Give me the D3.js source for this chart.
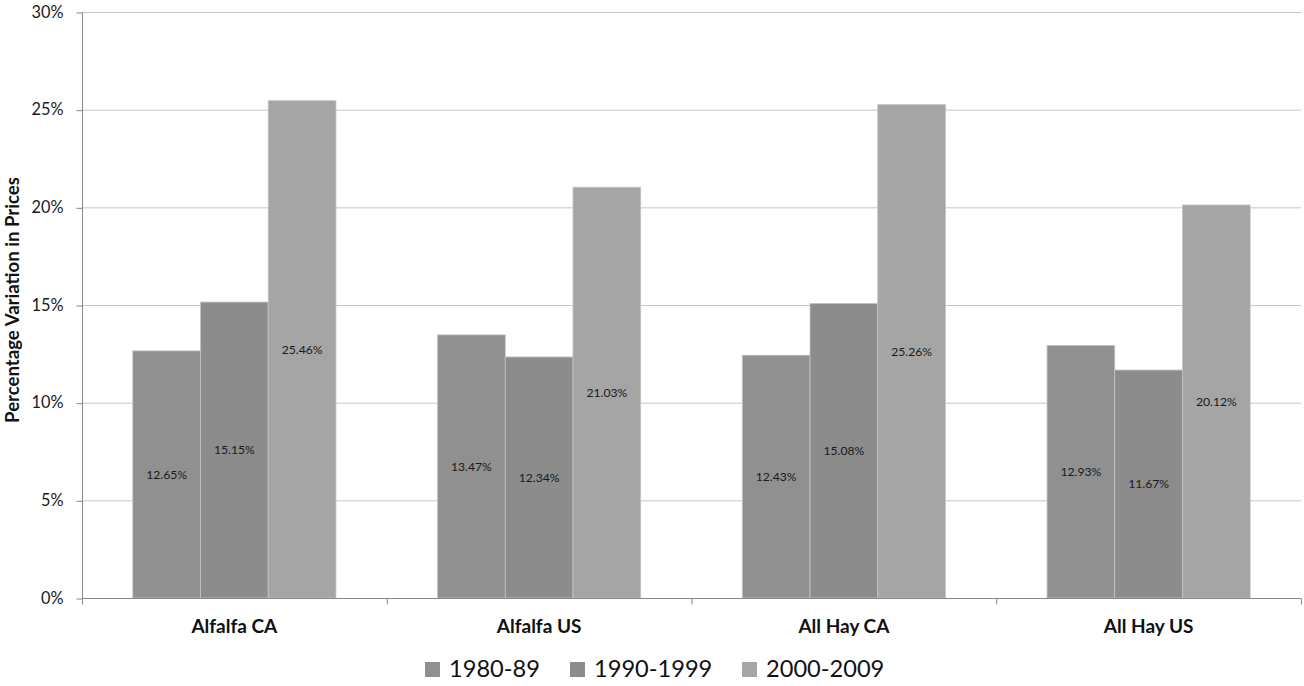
<!DOCTYPE html>
<html><head><meta charset="utf-8">
<script src="https://cdn.jsdelivr.net/npm/d3@7"></script>
<style>body{margin:0;background:#fff;} svg{font-family:Lato,"Open Sans",sans-serif;}</style>
</head><body>
<svg id="c" width="1304" height="686"></svg>
<script>
const categories = ["Alfalfa CA","Alfalfa US","All Hay CA","All Hay US"];
const seriesNames = ["1980-89","1990-1999","2000-2009"];
const s1980 = [12.65, 13.47, 12.43, 12.93];
const s1990 = [15.15, 12.34, 15.08, 11.67];
const s2000 = [25.46, 21.03, 25.26, 20.12];
const yTicks = [0,5,10,15,20,25,30];
const colors = ["#909090","#8c8c8c","#a5a5a5"];

const series = [s1980, s1990, s2000];
const svg = d3.select("#c");
const L = 82, R = 1301, T = 12, B = 598;
const x = d3.scaleBand().domain(categories).range([L,R]).paddingInner(0).paddingOuter(0);
const bw = x.bandwidth()/4.5;
const xs = d3.scaleBand().domain(seriesNames).range([0.75*bw, 3.75*bw]).padding(0);
const y = d3.scaleLinear().domain([0,30]).range([B,T]);

// scale a text selection's font-size so a sample string matches a target width
function fitSize(sample, weight, base, target){
  const t = svg.append("text").attr("font-size",base).attr("font-weight",weight).text(sample);
  const w = t.node().getComputedTextLength(); t.remove();
  return base*target/w;
}
const fsLabel = fitSize("12.65%","normal",11,41);
const fsTick = fitSize("30%","normal",15,32);
const fsCat = fitSize("Alfalfa CA","bold",16,86);
const fsTitle = fitSize("Percentage Variation in Prices","bold",13,246);
const fsLeg = fitSize("1980-89","normal",21,91);

// gridlines
svg.append("g").selectAll("line").data(yTicks.filter(d=>d>0)).join("line")
  .attr("x1",L).attr("x2",R).attr("y1",d=>y(d)+0.5).attr("y2",d=>y(d)+0.5)
  .attr("stroke","#c6c6c6").attr("stroke-width",1);

// bars
const g = svg.append("g");
categories.forEach((c,i)=>{
  series.forEach((s,j)=>{
    g.append("rect")
      .attr("x", x(c)+xs(seriesNames[j]))
      .attr("y", y(s[i]))
      .attr("width", xs.bandwidth())
      .attr("height", y(0)-y(s[i]))
      .attr("fill", colors[j])
      .attr("stroke","#c4c4c4").attr("stroke-width",0.8);
  });
});
// labels
categories.forEach((c,i)=>{
  series.forEach((s,j)=>{
    g.append("text")
      .attr("x", x(c)+xs(seriesNames[j])+xs.bandwidth()/2)
      .attr("y", (y(s[i])+y(0))/2)
      .attr("dy","0.35em")
      .attr("text-anchor","middle")
      .attr("font-size",fsLabel).attr("fill","#1a1a1a")
      .text(s[i].toFixed(2)+"%");
  });
});

// y axis
const yAxis = d3.axisLeft(y).tickValues(yTicks).tickFormat(d=>d+"%").tickSize(6).tickPadding(13);
const ya = svg.append("g").attr("transform",`translate(${L+0.5},0)`).call(yAxis);
ya.select(".domain").attr("stroke","#868686").attr("d",`M0,${T}V${B+6}`);
ya.selectAll(".tick line").attr("stroke","#868686").attr("transform","translate(0,0.5)");
ya.selectAll(".tick text").attr("font-size",fsTick).attr("fill","#1a1a1a").attr("font-family","Lato,sans-serif");

// x axis
const xa = svg.append("g").attr("transform",`translate(0,${B+0.5})`);
xa.append("line").attr("x1",L).attr("x2",R).attr("stroke","#868686");
xa.selectAll(".tk").data(d3.range(categories.length+1)).join("line")
  .attr("x1",d=>L+d*x.step()+0.5).attr("x2",d=>L+d*x.step()+0.5)
  .attr("y1",0).attr("y2",6).attr("stroke","#868686");
svg.append("g").selectAll("text").data(categories).join("text")
  .attr("x",d=>x(d)+x.bandwidth()/2).attr("y",633)
  .attr("text-anchor","middle").attr("font-size",fsCat).attr("font-weight","bold").attr("fill","#111")
  .text(d=>d);

// y title
svg.append("text").attr("transform","translate(19,300) rotate(-90)")
  .attr("text-anchor","middle").attr("font-size",fsTitle).attr("font-weight","bold").attr("fill","#111")
  .text("Percentage Variation in Prices");

// legend
const legX = [425, 570, 742];
const lg = svg.append("g");
seriesNames.forEach((n,j)=>{
  lg.append("rect").attr("x",legX[j]).attr("y",662).attr("width",15).attr("height",15).attr("fill",colors[j]);
  lg.append("text").attr("x",legX[j]+24).attr("y",677).attr("font-size",fsLeg).attr("fill","#111").text(n);
});
</script>
</body></html>
